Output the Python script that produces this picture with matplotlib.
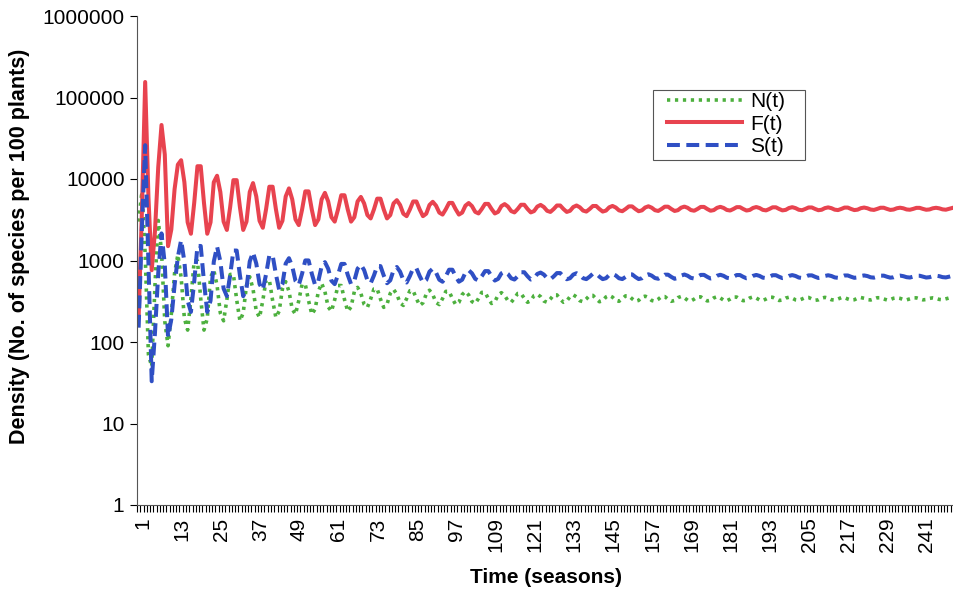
import numpy as np
import matplotlib
matplotlib.use('Agg')
import matplotlib.pyplot as plt
from matplotlib.ticker import NullLocator
from matplotlib.transforms import ScaledTranslation
from matplotlib.patches import Rectangle

plt.rcParams['font.family'] = ['Liberation Sans', 'DejaVu Sans']

# densities per season, t = 1 .. 250
N = [3000, 7000, 1200, 70, 50, 500, 3100, 1300, 180, 90, 220, 700,
     1175, 622, 195, 140, 340, 989, 989, 340, 140, 195, 622,
     759, 495, 227, 182, 330, 675, 675, 330, 182, 227, 495,
     631, 448, 239, 200, 323, 575, 575, 323, 200, 239, 448,
     550, 418, 253, 219, 321, 510, 510, 321, 219, 253, 418,
     526, 415, 269, 238, 331, 493, 493, 331, 238, 269, 415,
     468, 395, 290, 266, 337, 447, 447, 337, 266, 290, 395,
     442, 386, 302, 281, 340, 426, 426, 340, 281, 302, 386,
     432, 382, 306, 288, 341, 418, 418, 341, 288, 306, 382,
     417, 377, 313, 297, 342, 406, 406, 342, 297, 313, 377,
     403, 372, 321, 307, 344, 394, 394, 344, 307, 321, 372,
     385, 360, 318, 307, 337, 378, 378, 337, 307, 318, 360,
     379, 357, 321, 312, 338, 373, 373, 338, 312, 321, 357,
     373, 355, 324, 316, 339, 368, 368, 339, 316, 324, 355,
     365, 350, 323, 316, 335, 361, 361, 335, 316, 323, 350,
     362, 348, 325, 319, 336, 358, 358, 336, 319, 325, 348,
     359, 347, 326, 321, 336, 356, 356, 336, 321, 326, 347,
     357, 346, 328, 323, 337, 354, 354, 337, 323, 328, 346,
     354, 345, 329, 325, 337, 352, 352, 337, 325, 329, 345,
     353, 345, 330, 327, 337, 350, 350, 337, 327, 330, 345,
     351, 344, 331, 328, 337, 349, 349, 337, 328, 331, 344,
     349, 343, 332, 329, 338, 348, 348, 338, 329, 332, 343,
     348, 343, 333, 330, 338, 347, 347]

F = [200, 4000, 155000, 6000, 760, 2300, 14000, 46000, 20000, 1500, 2400, 7500, 15000,
     17000, 9140, 2940, 2130, 5070, 14350, 14350, 5070, 2130, 2940, 9140,
     10960, 6930, 3000, 2370, 4490, 9680, 9680, 4490, 2370, 3000, 6930,
     8910, 6110, 3070, 2520, 4270, 8040, 8040, 4270, 2520, 3070, 6110,
     7670, 5630, 3190, 2720, 4190, 7050, 7050, 4190, 2720, 3190, 5630,
     6760, 5310, 3400, 3000, 4210, 6320, 6320, 4210, 3000, 3400, 5310,
     6030, 5020, 3610, 3280, 4230, 5740, 5740, 4230, 3280, 3610, 5020,
     5500, 4800, 3750, 3500, 4230, 5300, 5300, 4230, 3500, 3750, 4800,
     5250, 4710, 3870, 3660, 4260, 5090, 5090, 4260, 3660, 3870, 4710,
     5070, 4650, 3950, 3780, 4280, 4950, 4950, 4280, 3780, 3950, 4650,
     4920, 4590, 4040, 3890, 4290, 4830, 4830, 4290, 3890, 4040, 4590,
     4810, 4530, 4070, 3945, 4280, 4730, 4730, 4280, 3945, 4070, 4530,
     4730, 4495, 4095, 3985, 4280, 4665, 4665, 4280, 3985, 4095, 4495,
     4670, 4470, 4120, 4025, 4285, 4615, 4615, 4285, 4025, 4120, 4470,
     4625, 4445, 4140, 4055, 4285, 4575, 4575, 4285, 4055, 4140, 4445,
     4585, 4430, 4155, 4080, 4285, 4545, 4545, 4285, 4080, 4155, 4430,
     4555, 4415, 4170, 4105, 4285, 4515, 4515, 4285, 4105, 4170, 4415,
     4530, 4405, 4180, 4120, 4285, 4495, 4495, 4285, 4120, 4180, 4405,
     4510, 4395, 4195, 4140, 4290, 4475, 4475, 4290, 4140, 4195, 4395,
     4485, 4385, 4205, 4155, 4290, 4460, 4460, 4290, 4155, 4205, 4385,
     4465, 4375, 4220, 4175, 4295, 4440, 4440, 4295, 4175, 4220, 4375,
     4445, 4370, 4230, 4195, 4295, 4425, 4425, 4295, 4195, 4230, 4370,
     4435, 4365, 4240, 4200, 4300, 4415]

S = [150, 2500, 26000, 900, 33, 130, 700, 2150, 900, 115, 190, 500, 1100,
     1775, 968, 321, 234, 545, 1507, 1507, 545, 234, 321, 968,
     1483, 975, 453, 365, 655, 1324, 1324, 655, 365, 453, 975,
     1259, 917, 514, 437, 679, 1156, 1156, 679, 437, 514, 917,
     1067, 850, 562, 500, 686, 1002, 1002, 686, 500, 562, 850,
     955, 793, 564, 513, 664, 908, 908, 664, 513, 564, 793,
     891, 762, 571, 526, 655, 854, 854, 655, 526, 571, 762,
     832, 730, 575, 537, 645, 803, 803, 645, 537, 575, 730,
     794, 711, 581, 549, 640, 771, 771, 640, 549, 581, 711,
     759, 696, 595, 568, 641, 741, 741, 641, 568, 595, 696,
     731, 684, 605, 584, 641, 718, 718, 641, 584, 605, 684,
     711, 672, 606, 589, 637, 701, 701, 637, 589, 606, 672,
     698, 664, 606, 591, 633, 689, 689, 633, 591, 606, 664,
     684, 655, 605, 592, 628, 676, 676, 628, 592, 605, 655,
     677, 652, 609, 597, 629, 670, 670, 629, 597, 609, 652,
     673, 650, 612, 601, 630, 666, 666, 630, 601, 612, 650,
     668, 648, 614, 605, 630, 663, 663, 630, 605, 614, 648,
     665, 647, 616, 608, 631, 660, 660, 631, 608, 616, 647,
     662, 646, 618, 610, 631, 657, 657, 631, 610, 618, 646,
     659, 645, 620, 613, 632, 655, 655, 632, 613, 620, 645,
     656, 644, 622, 616, 632, 652, 652, 632, 616, 622, 644,
     653, 642, 624, 618, 633, 650, 650, 633, 618, 624, 642,
     651, 642, 625, 620, 633, 649]

x_labels = list(range(1, 250, 12))
y_ticks = [1, 10, 100, 1000, 10000, 100000, 1000000]

fig = plt.figure(figsize=(9.54, 5.91), dpi=100)
ax = fig.add_axes([137 / 954, 86 / 591, 1 - 137 / 954, 489 / 591])

ax.plot(np.arange(1, len(N) + 1), N, color='#4DB03E', lw=2.6,
        linestyle=(0, (0.9, 1.3)), label='N(t)')
ax.plot(np.arange(1, len(F) + 1), F, color='#E8434F', lw=2.9,
        linestyle='-', label='F(t)')
ax.plot(np.arange(1, len(S) + 1), S, color='#2F4FC4', lw=2.9,
        linestyle=(0, (3.2, 1.6)), label='S(t)')

ax.set_yscale('log')
ax.set_ylim(1, 1000000)
ax.set_yticks(y_ticks)
ax.set_yticklabels([str(v) for v in y_ticks])
ax.yaxis.set_minor_locator(NullLocator())

ax.set_xlim(0.5, 248.3)
ax.set_xticks(x_labels)
ax.set_xticklabels([str(v) for v in x_labels], rotation=90)
ax.set_xticks(np.arange(0.5, 251, 1.0), minor=True)
ax.tick_params(axis='x', which='major', length=0, pad=9, labelsize=15)
ax.tick_params(axis='x', which='minor', length=5, width=0.8, direction='out')
ax.tick_params(axis='y', which='major', length=5, width=0.8, labelsize=15, pad=4)

# nudge the rotated labels so the digits sit over their categories
shift = ScaledTranslation(4 / 100, 0, fig.dpi_scale_trans)
for lbl in ax.get_xticklabels():
    lbl.set_transform(lbl.get_transform() + shift)

for side in ['top', 'right']:
    ax.spines[side].set_visible(False)
ax.spines['left'].set_color('#555555')
ax.spines['bottom'].set_color('#555555')

ax.set_xlabel('Time (seasons)', fontsize=15, fontweight='bold', labelpad=11)
ax.set_ylabel('Density (No. of species per 100 plants)', fontsize=15.5,
              fontweight='bold')
ax.yaxis.set_label_coords(-0.131, 0.528)

# legend box drawn separately so the entries get wider side margins
ax.add_patch(Rectangle((0.6316, 0.7055), 0.186, 0.1432, transform=ax.transAxes,
                       facecolor='white', edgecolor='#555555', lw=0.8,
                       zorder=4, clip_on=False))
leg = ax.legend(loc='upper left', bbox_to_anchor=(0.6487, 0.8446),
                fontsize=15, frameon=False, handlelength=3.6,
                handletextpad=0.4, borderpad=0, labelspacing=0.17,
                borderaxespad=0)
leg.set_zorder(5)

fig.savefig('out.png', dpi=100)
